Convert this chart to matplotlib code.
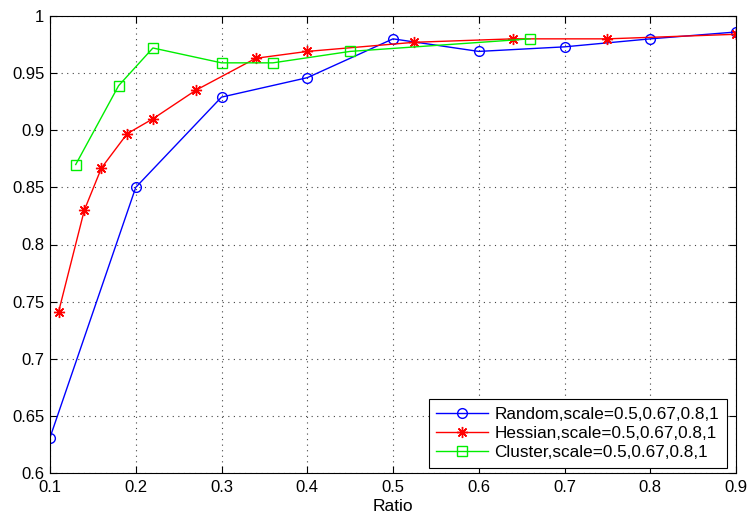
import matplotlib
matplotlib.use("Agg")
import matplotlib.pyplot as plt

plt.rcParams['font.family'] = ['Liberation Sans', 'DejaVu Sans']

random_x = [0.1, 0.2, 0.3, 0.4, 0.5, 0.6, 0.7, 0.8, 0.9]
random_y = [0.631, 0.85, 0.929, 0.946, 0.98, 0.969, 0.973, 0.98, 0.986]

hessian_x = [0.11, 0.14, 0.16, 0.19, 0.22, 0.27, 0.34, 0.40, 0.525, 0.64, 0.75, 0.9]
hessian_y = [0.741, 0.83, 0.867, 0.897, 0.91, 0.935, 0.963, 0.969, 0.977, 0.98, 0.98, 0.984]

cluster_x = [0.13, 0.18, 0.22, 0.30, 0.36, 0.45, 0.66]
cluster_y = [0.87, 0.939, 0.972, 0.959, 0.959, 0.969, 0.98]

labels = ['Random,scale=0.5,0.67,0.8,1',
          'Hessian,scale=0.5,0.67,0.8,1',
          'Cluster,scale=0.5,0.67,0.8,1']

xticks = [0.1, 0.2, 0.3, 0.4, 0.5, 0.6, 0.7, 0.8, 0.9]
xticklabels = ['0.1', '0.2', '0.3', '0.4', '0.5', '0.6', '0.7', '0.8', '0.9']
yticks = [0.6, 0.65, 0.7, 0.75, 0.8, 0.85, 0.9, 0.95, 1.0]
yticklabels = ['0.6', '0.65', '0.7', '0.75', '0.8', '0.85', '0.9', '0.95', '1']

W, H = 751, 523
L, R, T, B = 50, 736, 16, 473
fig = plt.figure(figsize=(W/100, H/100), dpi=100)
ax = fig.add_axes([L/W, 1-B/H, (R-L)/W, (B-T)/H])

ax.plot(random_x, random_y, '-', marker='o', color='#0000ff', lw=1.0, ms=7, mfc='none', mew=1.0, label=labels[0])
ax.plot(hessian_x, hessian_y, '-', marker=(8, 2, 0), color='#ff0000', lw=1.0, ms=8, mew=1.0, label=labels[1])
ax.plot(cluster_x, cluster_y, '-', marker='s', color='#00ee00', lw=1.0, ms=7, mfc='none', mew=1.0, label=labels[2])

ax.set_xlim(0.1, 0.9)
ax.set_ylim(0.6, 1.0)
ax.set_xticks(xticks)
ax.set_xticklabels(xticklabels)
ax.set_yticks(yticks)
ax.set_yticklabels(yticklabels)
ax.tick_params(direction='in', top=True, right=True, labelsize=12, length=5, width=0.8)
ax.tick_params(axis='x', pad=5)
ax.tick_params(axis='y', pad=4)
ax.grid(True, linestyle=(0, (1, 4)), color='#444444', linewidth=0.8)
for s in ax.spines.values():
    s.set_linewidth(0.8)
    s.set_color('black')
ax.set_xlabel('Ratio', fontsize=12.5, labelpad=3)

leg = ax.legend(loc='lower right', fontsize=12.3, fancybox=False, framealpha=1,
                edgecolor='black', borderaxespad=0,
                bbox_to_anchor=((727-L)/(R-L), (B-468)/(B-T)),
                handlelength=3.0, labelspacing=0.25, borderpad=0.45, handletextpad=0.4)
leg.get_frame().set_linewidth(0.8)

fig.savefig('out.png', dpi=100)
